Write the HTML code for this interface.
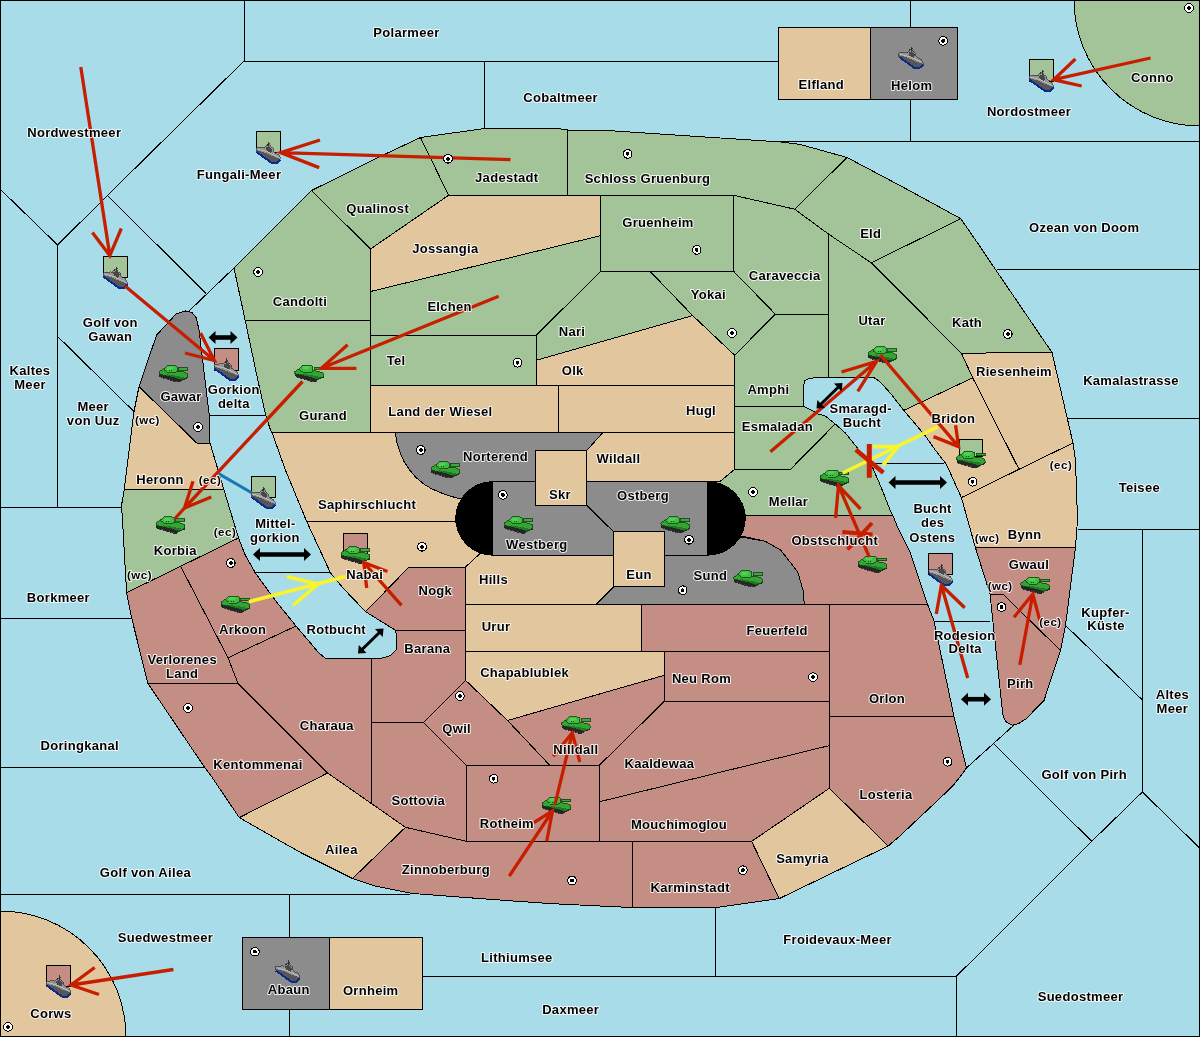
<!DOCTYPE html>
<html><head><meta charset="utf-8"><title>Map</title>
<style>html,body{margin:0;padding:0;background:#A8DCE9;overflow:hidden}svg{display:block;will-change:transform}</style>
</head><body>
<svg width="1200" height="1037" viewBox="0 0 1200 1037" shape-rendering="crispEdges">
<defs>
<symbol id="tk" viewBox="0 0 29 17" width="29" height="17" overflow="visible">
<polygon points="0.3,8.6 6.5,9.9 16.4,12.2 22.5,14.2 26,12.8 29,11.3 29,12.6 23.5,15 20.7,16.9 17.3,16.9 2.2,12.4 0.3,10.9" fill="#262626"/>
<path d="M3,12.3 L18,16.4 M21,16.3 L24,14.6" stroke="#555" stroke-width="0.9" stroke-dasharray="1.2 1.3"/>
<polygon points="0,6.2 4.8,3.1 18.4,5.6 20.7,5.9 24.9,6.5 28.6,8.2 29,11.3 26,12.9 22.5,14.2 16.4,12.2 6.5,9.9 0.3,8.7" fill="#32a632" stroke="#124012" stroke-width="0.8"/>
<polygon points="7,8.6 16,10 24,11.5 26,12.6 22.5,14 16.4,12 6.5,9.8" fill="#247a24"/>
<polygon points="4.8,3.6 7.9,0.2 16.1,0.2 18.4,1.2 18.4,5.6 16,7 8,7 5.5,5" fill="#40bc40" stroke="#124012" stroke-width="0.8"/>
<polygon points="8.5,1.2 15.5,1.2 13,4.5 8,4" fill="#52d052"/>
<rect x="19.9" y="2.1" width="9" height="2.6" fill="#36ad36" stroke="#103810" stroke-width="0.8"/>
<path d="M10,5 h0.9 M12,5 h0.9" stroke="#143" stroke-width="1"/>
</symbol>
<symbol id="sh" viewBox="0 0 26 33" width="26" height="33" overflow="visible">
<polygon points="0,16.4 4,16 7.3,15.7 8.8,16.3 10.6,13.8 12.5,13.3 14,13.8 14.7,15.5 17.2,17.1 17.2,20 20.2,22.3 22.4,23 24.2,26.3 24.4,28.1 20.5,31.8 15.8,31.8 0,20.4" fill="#959595" stroke="#222" stroke-width="0.6"/>
<polygon points="0.5,18.8 8,21 16,24.5 24,27.6 20.5,31.2 15.8,31.2 0.5,20.5" fill="#565656"/>
<polygon points="9.5,16.5 13,14.8 16.5,18.5 15,21.5 11,20" fill="#474747"/>
<path d="M1,17.6 L12,20.6 L23.5,26.4" stroke="#c0c0c0" stroke-width="0.8" fill="none"/>
<path d="M0.4,20.6 L15.8,31.7 L20.6,31.7 L24.4,28.2" stroke="#0a2a8c" stroke-width="2" fill="none"/>
<path d="M12.7,10.3 V15 M12.7,12.2 H14.2 M11.2,13 V15" stroke="#222" stroke-width="0.8"/>
</symbol>
</defs>
<rect x="0" y="0" width="1200" height="1037" fill="#A8DCE9"/>
<polyline points="244,0 244,61" fill="none" stroke="#000" stroke-width="1"/>
<polyline points="244,61 778.4,61" fill="none" stroke="#000" stroke-width="1"/>
<polyline points="484.5,61 484.5,128.5" fill="none" stroke="#000" stroke-width="1"/>
<polyline points="780.5,142 1200,141" fill="none" stroke="#000" stroke-width="1"/>
<polyline points="910.5,0 910.5,141" fill="none" stroke="#000" stroke-width="1"/>
<polyline points="244,61 107.5,195.4 57.6,245" fill="none" stroke="#000" stroke-width="1"/>
<polyline points="0,189 57.6,245" fill="none" stroke="#000" stroke-width="1"/>
<polyline points="57.6,245 57.6,507" fill="none" stroke="#000" stroke-width="1"/>
<polyline points="0,507 121.5,507" fill="none" stroke="#000" stroke-width="1"/>
<polyline points="107.5,195.4 206,293.5" fill="none" stroke="#000" stroke-width="1"/>
<polyline points="189,311 234,268" fill="none" stroke="#000" stroke-width="1"/>
<polyline points="57.6,336.4 134,411.6" fill="none" stroke="#000" stroke-width="1"/>
<polyline points="0,618.2 131.6,618.2" fill="none" stroke="#000" stroke-width="1"/>
<polyline points="0,767.4 204.3,767.4" fill="none" stroke="#000" stroke-width="1"/>
<polyline points="0,894.8 410,894.8" fill="none" stroke="#000" stroke-width="1"/>
<polyline points="289.5,894.8 289.5,1037" fill="none" stroke="#000" stroke-width="1"/>
<polyline points="422,976.3 956.4,976.3" fill="none" stroke="#000" stroke-width="1"/>
<polyline points="956.4,976.3 956.4,1037" fill="none" stroke="#000" stroke-width="1"/>
<polyline points="715.8,907.5 715.8,976.3" fill="none" stroke="#000" stroke-width="1"/>
<polyline points="956.4,976.3 1091.7,841.4" fill="none" stroke="#000" stroke-width="1"/>
<polyline points="1091.7,841.4 1142.4,792" fill="none" stroke="#000" stroke-width="1"/>
<polyline points="1142.4,792 1200,848.4" fill="none" stroke="#000" stroke-width="1"/>
<polyline points="1142.4,529.5 1142.4,792" fill="none" stroke="#000" stroke-width="1"/>
<polyline points="1078.4,529.5 1200,529.5" fill="none" stroke="#000" stroke-width="1"/>
<polyline points="1068.4,418.4 1200,418.4" fill="none" stroke="#000" stroke-width="1"/>
<polyline points="996.5,269.5 1200,269.5" fill="none" stroke="#000" stroke-width="1"/>
<polyline points="1065.4,625.3 1142.4,700" fill="none" stroke="#000" stroke-width="1"/>
<polyline points="1014,725 966.4,768" fill="none" stroke="#000" stroke-width="1"/>
<polyline points="994,743.8 1091.7,841.4" fill="none" stroke="#000" stroke-width="1"/>
<polyline points="209,415.4 265.7,415.4" fill="none" stroke="#000" stroke-width="1"/>
<polyline points="255.3,572.9 330.5,572.9" fill="none" stroke="#000" stroke-width="1"/>
<polyline points="871.6,463.4 944.3,463.4" fill="none" stroke="#000" stroke-width="1"/>
<polyline points="933.8,621.5 989.7,621.5" fill="none" stroke="#000" stroke-width="1"/>
<circle cx="1200" cy="0" r="126" fill="#A3C499" stroke="#000" stroke-width="1"/>
<circle cx="0" cy="1037" r="126" fill="#E2C69D" stroke="#000" stroke-width="1"/>
<rect x="778.5" y="27.5" width="92" height="71.5" fill="#E2C69D" stroke="#000"/>
<rect x="870.5" y="27.5" width="87" height="71.5" fill="#8C8C8C" stroke="#000"/>
<rect x="242.5" y="937.5" width="87" height="71.5" fill="#8C8C8C" stroke="#000"/>
<rect x="329.5" y="937.5" width="92.5" height="71.5" fill="#E2C69D" stroke="#000"/>
<polygon points="234,268 311.5,190.5 370.5,249 370.5,320.5 245.2,320.5" fill="#A3C499" stroke="#000" stroke-width="1" stroke-linejoin="round"/>
<polygon points="311.5,190.5 386.5,153.5 420.5,137.5 448.6,195.3 370.5,249" fill="#A3C499" stroke="#000" stroke-width="1" stroke-linejoin="round"/>
<polygon points="420.5,137.5 484.5,128.5 557,128.5 567.5,130 567.5,195.3 448.6,195.3" fill="#A3C499" stroke="#000" stroke-width="1" stroke-linejoin="round"/>
<polygon points="567.5,130 600,130 780.5,142 800.5,144.5 847,157.5 794.7,209.2 733.6,195.3 567.5,195.3" fill="#A3C499" stroke="#000" stroke-width="1" stroke-linejoin="round"/>
<polygon points="370.5,249 448.6,195.3 567.5,195.3 600.75,195.3 600.75,235.6 500.5,260 370.5,291.5" fill="#E2C69D" stroke="#000" stroke-width="1" stroke-linejoin="round"/>
<polygon points="600.75,195.3 733.6,195.3 733.6,271.3 600.75,271.3" fill="#A3C499" stroke="#000" stroke-width="1" stroke-linejoin="round"/>
<polygon points="847,157.5 900,185.5 960.8,218.7 871.3,262.8 828.7,234.2 794.7,209.2" fill="#A3C499" stroke="#000" stroke-width="1" stroke-linejoin="round"/>
<polygon points="733.6,195.3 794.7,209.2 828.7,234.2 828.7,314.2 775.4,314.2 733.6,271.3" fill="#A3C499" stroke="#000" stroke-width="1" stroke-linejoin="round"/>
<polygon points="245.2,320.5 370.5,320.5 370.5,432.4 272,432.4 270.5,430 265.7,415.4 257.8,380" fill="#A3C499" stroke="#000" stroke-width="1" stroke-linejoin="round"/>
<polygon points="370.5,291.5 500.5,260 600.75,235.6 600.75,271.3 536.3,335.2 370.5,335.2" fill="#A3C499" stroke="#000" stroke-width="1" stroke-linejoin="round"/>
<polygon points="536.3,335.2 600.75,271.3 650,271.3 692.7,315.6 536.3,360.3" fill="#A3C499" stroke="#000" stroke-width="1" stroke-linejoin="round"/>
<polygon points="650,271.3 733.6,271.3 775.4,314.2 734.6,355.2 692.7,315.6" fill="#A3C499" stroke="#000" stroke-width="1" stroke-linejoin="round"/>
<polygon points="370.5,335.2 536.3,335.2 536.3,385.3 370.5,385.3" fill="#A3C499" stroke="#000" stroke-width="1" stroke-linejoin="round"/>
<polygon points="536.3,360.3 692.7,315.6 734.6,355.2 734.6,385.3 536.3,385.3" fill="#E2C69D" stroke="#000" stroke-width="1" stroke-linejoin="round"/>
<polygon points="370.5,385.3 558,385.3 558,432.4 370.5,432.4" fill="#E2C69D" stroke="#000" stroke-width="1" stroke-linejoin="round"/>
<polygon points="558,385.3 734.6,385.3 734.6,432.4 558,432.4" fill="#E2C69D" stroke="#000" stroke-width="1" stroke-linejoin="round"/>
<polygon points="734.6,355.2 775.4,314.2 828.7,314.2 828.7,377.6 817.6,377.6 809,378.3 805,380.5 803.8,385 803.8,406.5 734.6,406.6" fill="#A3C499" stroke="#000" stroke-width="1" stroke-linejoin="round"/>
<polygon points="734.6,406.6 803.8,406.5 810,409.5 818,414 825,415.8 835.2,424 790.5,469.3 734.6,469.3" fill="#A3C499" stroke="#000" stroke-width="1" stroke-linejoin="round"/>
<polygon points="828.7,234.2 871.3,262.8 961.4,353.2 972.7,377.8 903.8,410.4 891,394 885.4,387.7 879,381 874,377.6 828.7,377.6" fill="#A3C499" stroke="#000" stroke-width="1" stroke-linejoin="round"/>
<polygon points="871.3,262.8 960.8,218.7 979.5,245.8 989,260 1052,352.5 961.4,353.2" fill="#A3C499" stroke="#000" stroke-width="1" stroke-linejoin="round"/>
<polygon points="961.4,353.2 1052,352.5 1073,443 1019,469.3 972.7,377.8" fill="#E2C69D" stroke="#000" stroke-width="1" stroke-linejoin="round"/>
<polygon points="903.8,410.4 972.7,377.8 1019,469.3 961.4,497.6 946.4,464.3 935.5,450.4 925,435.4" fill="#E2C69D" stroke="#000" stroke-width="1" stroke-linejoin="round"/>
<polygon points="961.4,497.6 1019,469.3 1073,443 1075.5,460.5 1077.5,520 1075.5,547 975.2,547 967.7,520" fill="#E2C69D" stroke="#000" stroke-width="1" stroke-linejoin="round"/>
<polygon points="975.2,547 1075.5,547 1065.5,625.5 1060.5,650.5 1002.8,594 990,594" fill="#C48E85" stroke="#000" stroke-width="1" stroke-linejoin="round"/>
<polygon points="990,594 1002.8,594 1060.5,650.5 1044,700.5 1035,709.5 1026.8,718.4 1018.7,723.5 1012.7,725.2 1006.6,722.5 1003.6,717.5 1002.5,712" fill="#C48E85" stroke="#000" stroke-width="1" stroke-linejoin="round"/>
<polygon points="603,432.4 734.6,432.4 734.6,469.3 720.3,481.3 586.6,481.3 586.6,450.7" fill="#E2C69D" stroke="#000" stroke-width="1" stroke-linejoin="round"/>
<polygon points="395.2,432.4 603,432.4 586.6,450.7 535.4,450.7 535.4,481.3 492.8,481.3 462,499 458.8,498.5 450,496 442.3,493.3 432,489 424,484.2 416,477.5 409.3,469.5 404,461.5 400.2,453 397,443" fill="#8C8C8C" stroke="#000" stroke-width="1" stroke-linejoin="round"/>
<polygon points="272,432.4 395.2,432.4 397,443 400.2,453 404,461.5 409.3,469.5 416,477.5 424,484.2 432,489 442.3,493.3 450,496 458.8,498.5 462,499 470,518 454.3,521.6 306.7,521.5 285.4,470" fill="#E2C69D" stroke="#000" stroke-width="1" stroke-linejoin="round"/>
<polygon points="306.7,521.5 454.3,521.6 470,530 484,548 479.5,554 465.5,567 409,567 365.6,611.7 343,588 330.5,572.9" fill="#E2C69D" stroke="#000" stroke-width="1" stroke-linejoin="round"/>
<polygon points="492.8,481.3 535.4,481.3 535.4,505.2 586.6,505.2 613.6,531.8 613.6,555.6 492.8,555.6" fill="#8C8C8C" stroke="#000" stroke-width="1" stroke-linejoin="round"/>
<polygon points="586.6,481.3 707.3,481.3 707.3,555.6 664.4,555.6 664.4,531.8 613.6,531.8 586.6,505.2" fill="#8C8C8C" stroke="#000" stroke-width="1" stroke-linejoin="round"/>
<polygon points="535.4,450.7 586.6,450.7 586.6,505.2 535.4,505.2" fill="#E2C69D" stroke="#000" stroke-width="1" stroke-linejoin="round"/>
<polygon points="613.6,531.8 664.4,531.8 664.4,586.7 613.6,586.7" fill="#E2C69D" stroke="#000" stroke-width="1" stroke-linejoin="round"/>
<polygon points="465.5,567 479.5,554 486,547 492.8,548 492.8,555.6 613.6,555.6 613.6,586.7 596.4,604 465.5,604" fill="#E2C69D" stroke="#000" stroke-width="1" stroke-linejoin="round"/>
<polygon points="734.6,469.3 790.5,469.3 835.2,424 845.2,432.8 855.3,445.4 865.3,458 872.8,468 880.4,485.5 890.4,510.6 892.9,515.6 745.8,515 712,505 712,481.3 720.3,481.3" fill="#A3C499" stroke="#000" stroke-width="1" stroke-linejoin="round"/>
<polygon points="720,515 892.9,515.6 898,528.2 910.5,553.2 923,590.9 927.6,604.5 804.3,604.5 803,590 798,572.6 790.5,562.6 780.5,550 765.4,541.3 742.9,536.3 720,537" fill="#C48E85" stroke="#000" stroke-width="1" stroke-linejoin="round"/>
<polygon points="596.4,604 613.6,586.7 664.4,586.7 664.4,555.6 707.3,555.6 741,537 765.4,541.3 780.5,550 790.5,562.6 798,572.6 803,590 804.3,604.5" fill="#8C8C8C" stroke="#000" stroke-width="1" stroke-linejoin="round"/>
<polygon points="465.5,604 641.5,604 641.5,651 465.5,651" fill="#E2C69D" stroke="#000" stroke-width="1" stroke-linejoin="round"/>
<polygon points="641.5,604 829.3,604.5 829.3,651 641.5,651" fill="#C48E85" stroke="#000" stroke-width="1" stroke-linejoin="round"/>
<polygon points="465.5,651 664,651 664,675.4 507.5,720.5 465.5,680.3" fill="#E2C69D" stroke="#000" stroke-width="1" stroke-linejoin="round"/>
<polygon points="664,651 829.3,651 829.3,701.7 664,701.7" fill="#C48E85" stroke="#000" stroke-width="1" stroke-linejoin="round"/>
<polygon points="829.3,604.5 927.6,604.5 933.8,620.3 953.9,716.2 829.3,716.5" fill="#C48E85" stroke="#000" stroke-width="1" stroke-linejoin="round"/>
<polygon points="829.3,716.5 953.9,716.2 966.4,768 960,777 953.9,784.5 940,798.3 920,817 900,835.9 888.2,846 829.3,788.3" fill="#C48E85" stroke="#000" stroke-width="1" stroke-linejoin="round"/>
<polygon points="664,701.7 829.3,701.7 829.3,745.6 599.6,801.7 599.6,765" fill="#C48E85" stroke="#000" stroke-width="1" stroke-linejoin="round"/>
<polygon points="599.6,801.7 829.3,745.6 829.3,788.3 751.6,841.4 599.6,841.3" fill="#C48E85" stroke="#000" stroke-width="1" stroke-linejoin="round"/>
<polygon points="751.6,841.4 829.3,788.3 888.2,846 779.2,898.6" fill="#E2C69D" stroke="#000" stroke-width="1" stroke-linejoin="round"/>
<polygon points="632.6,841.3 751.6,841.4 779.2,898.6 717.8,907.3 642.6,907.8 632.6,907.3" fill="#C48E85" stroke="#000" stroke-width="1" stroke-linejoin="round"/>
<polygon points="405.5,827.3 466.2,841.3 632.6,841.3 632.6,907.3 612.5,906.8 600,906 550.6,903.6 513,901 463,897.3 412.8,893.5 375.2,886 352.6,878.5" fill="#C48E85" stroke="#000" stroke-width="1" stroke-linejoin="round"/>
<polygon points="466.2,765 599.6,765 599.6,841.3 466.2,841.3" fill="#C48E85" stroke="#000" stroke-width="1" stroke-linejoin="round"/>
<polygon points="507.5,720.5 664,675.4 664,701.7 599.6,765 549.5,765" fill="#C48E85" stroke="#000" stroke-width="1" stroke-linejoin="round"/>
<polygon points="423.5,722.3 465.5,680.3 507.5,720.5 549.5,765 466.2,765" fill="#C48E85" stroke="#000" stroke-width="1" stroke-linejoin="round"/>
<polygon points="371.2,803.5 371.2,722.3 423.5,722.3 466.2,765 466.2,841.3 405.5,827.3" fill="#C48E85" stroke="#000" stroke-width="1" stroke-linejoin="round"/>
<polygon points="371.2,658.5 380.6,658.5 388,656.5 392,654.3 396,650 397,645.6 396.5,635 395.5,630.3 465.5,630.3 465.5,680.3 423.5,722.3 371.2,722.3" fill="#C48E85" stroke="#000" stroke-width="1" stroke-linejoin="round"/>
<polygon points="365.6,611.7 409,567 465.5,567 465.5,630.3 395.5,630.3" fill="#C48E85" stroke="#000" stroke-width="1" stroke-linejoin="round"/>
<polygon points="139,386.6 156.6,335 168,322.7 176,314 185.5,311 192,312.5 196.4,318 199,330 209,413 210,443 196.7,443" fill="#8C8C8C" stroke="#000" stroke-width="1" stroke-linejoin="round"/>
<polygon points="139,386.6 196.7,443 210,443 223.7,489 124.3,489 134,411.6" fill="#E2C69D" stroke="#000" stroke-width="1" stroke-linejoin="round"/>
<polygon points="124.3,489 223.7,489 238.5,538 126.6,592.7 122.5,520 121.5,505.6" fill="#A3C499" stroke="#000" stroke-width="1" stroke-linejoin="round"/>
<polygon points="238.5,538 245.3,555.3 255.3,572.9 275.4,600.5 296,626 228,657.8 180.6,566.3" fill="#C48E85" stroke="#000" stroke-width="1" stroke-linejoin="round"/>
<polygon points="126.6,592.7 180.6,566.3 228,657.8 238,683.4 147.9,683.4 131.6,617.7" fill="#C48E85" stroke="#000" stroke-width="1" stroke-linejoin="round"/>
<polygon points="147.9,683.4 238,683.4 327.6,773 239.3,817.6 211.8,777 204.3,766.9" fill="#C48E85" stroke="#000" stroke-width="1" stroke-linejoin="round"/>
<polygon points="228,657.8 296,626 310.5,643 318,652 325.5,658.5 371.2,658.5 371.2,803.5 327.6,773 238,683.4" fill="#C48E85" stroke="#000" stroke-width="1" stroke-linejoin="round"/>
<polygon points="239.3,817.6 327.6,773 405.5,827.3 352.6,878.5 300,852.2" fill="#E2C69D" stroke="#000" stroke-width="1" stroke-linejoin="round"/>
<path d="M492.8,481.1 A37.5,37.3 0 0 0 492.8,555.7 Z" fill="#000"/>
<path d="M707.3,481.1 A38.5,37.3 0 0 1 707.3,555.7 Z" fill="#000"/>
<rect x="256.5" y="131.8" width="23.6" height="20.7" fill="#A3C499" stroke="#000" stroke-width="1"/>
<rect x="103.8" y="256.8" width="23.5" height="21" fill="#A3C499" stroke="#000" stroke-width="1"/>
<rect x="1029.8" y="59.9" width="23.3" height="21.1" fill="#A3C499" stroke="#000" stroke-width="1"/>
<rect x="214.7" y="348.6" width="23.6" height="21.5" fill="#C48E85" stroke="#000" stroke-width="1"/>
<rect x="251.5" y="476.9" width="23.8" height="21" fill="#A3C499" stroke="#000" stroke-width="1"/>
<rect x="928.9" y="553.1" width="23.3" height="21.2" fill="#C48E85" stroke="#000" stroke-width="1"/>
<rect x="46.9" y="965.5" width="23.6" height="21" fill="#C48E85" stroke="#000" stroke-width="1"/>
<rect x="343.5" y="533.3" width="23.8" height="21" fill="#C48E85" stroke="#000" stroke-width="1"/>
<rect x="959.1" y="439.1" width="23.1" height="17.8" fill="#A3C499" stroke="#000" stroke-width="1"/>
<use href="#sh" x="256" y="131.3"/>
<use href="#sh" x="103.3" y="256.3"/>
<use href="#sh" x="1029.3" y="59.4"/>
<use href="#sh" x="214.2" y="348.1"/>
<use href="#sh" x="251" y="476.4"/>
<use href="#sh" x="928.5" y="553.5"/>
<use href="#sh" x="46.4" y="965"/>
<use href="#sh" x="898.8" y="36.4"/>
<use href="#sh" x="275.6" y="950.1"/>
<use href="#tk" x="159" y="365.5"/>
<use href="#tk" x="294.5" y="365"/>
<use href="#tk" x="156" y="516.7"/>
<use href="#tk" x="221" y="596"/>
<use href="#tk" x="341" y="546.7"/>
<use href="#tk" x="431" y="461.5"/>
<use href="#tk" x="504" y="516.8"/>
<use href="#tk" x="660.9" y="516.5"/>
<use href="#tk" x="733.5" y="570.5"/>
<use href="#tk" x="868" y="346.5"/>
<use href="#tk" x="820" y="470"/>
<use href="#tk" x="956.2" y="451.3"/>
<use href="#tk" x="858" y="556"/>
<use href="#tk" x="1020.8" y="577"/>
<use href="#tk" x="561.3" y="716.8"/>
<use href="#tk" x="542" y="797"/>
<g fill="none" stroke-linecap="butt" shape-rendering="auto">
<path d="M80.8,67 L109.8,255.6 M92.4,232.5 L109.8,255.6 L121.3,228.5" stroke="#C81E00" stroke-width="3.3"/>
<path d="M125.3,286.3 L214.4,360.6 M200.5,333 L214.4,360.6 L185,353" stroke="#C81E00" stroke-width="3.3"/>
<path d="M510.5,159.6 L280.6,152.6 M320,140 L280.6,152.6 L319.2,167.6" stroke="#C81E00" stroke-width="3.3"/>
<path d="M1150.6,58 L1053.6,79.7 M1075.4,59 L1053.6,79.7 L1081.7,86" stroke="#C81E00" stroke-width="3.3"/>
<path d="M498.7,296.3 L321.3,368.3 M347.6,344.7 L321.3,368.3 L356.4,368.3" stroke="#C81E00" stroke-width="3.3"/>
<path d="M302.5,381.5 L184.5,508 M193,481.3 L184.5,508 L211.3,497" stroke="#C81E00" stroke-width="3.3"/>
<path d="M770.4,451.7 L876.6,361.3 M841.5,372 L876.6,361.3 L857.8,391.4" stroke="#C81E00" stroke-width="3.3"/>
<path d="M880.4,355 L958.6,446.6 M933.5,436.6 L958.6,446.6 L955.6,425.3" stroke="#C81E00" stroke-width="3.3"/>
<path d="M869.3,557 L838.5,485.5 M835.6,518 L838.5,485.5 L860.5,509" stroke="#C81E00" stroke-width="3.3"/>
<path d="M967.7,678 L941.4,585.2 M936.3,614 L941.4,585.2 L964.7,607.7" stroke="#C81E00" stroke-width="3.3"/>
<path d="M1019.8,664.9 L1032.8,594 M1014,617.2 L1032.8,594 L1039.8,620.3" stroke="#C81E00" stroke-width="3.3"/>
<path d="M554.8,805.2 L572.3,732.8 M553.2,756.2 L572.3,732.8 L579.8,762" stroke="#C81E00" stroke-width="3.3"/>
<path d="M509.3,876 L552.5,811 M533.8,822.7 L552.5,811 L546.7,841.3" stroke="#C81E00" stroke-width="3.3"/>
<path d="M401.5,605.3 L363.8,562.5 M366.7,588 L363.8,562.5 L387.5,571.5" stroke="#C81E00" stroke-width="3.3"/>
<path d="M173.4,969.5 L71,985 M94.7,967.5 L71,985 L99,994.5" stroke="#C81E00" stroke-width="3.3"/>
<path d="M249,601.7 L345.6,576.6 M286.7,576.6 L318,584.2 L292.9,605.5" stroke="#FAF52A" stroke-width="3.6"/>
<path d="M842.7,473 L938,426.6 M872.8,446.6 L898,446.6 L882.9,465.4" stroke="#FAF52A" stroke-width="3.6"/>
<path d="M219,473.9 L251.6,492.7" stroke="#1878b4" stroke-width="3"/>
<path d="M215.0,337.5 L231.0,337.5" stroke="#000" stroke-width="4.6"/>
<polygon points="237.5,337.5 230.5,344.0 230.5,331.0" fill="#000" stroke="none"/>
<polygon points="208.5,337.5 215.5,344.0 215.5,331.0" fill="#000" stroke="none"/>
<path d="M259.5,554.5 L304.5,554.5" stroke="#000" stroke-width="4.6"/>
<polygon points="311.0,554.5 304.0,561.0 304.0,548.0" fill="#000" stroke="none"/>
<polygon points="253.0,554.5 260.0,561.0 260.0,548.0" fill="#000" stroke="none"/>
<path d="M362.3,649.3 L379.2,632.7" stroke="#000" stroke-width="3.0"/>
<polygon points="383.5,628.5 382.7,637.0 375.0,629.1" fill="#000" stroke="none"/>
<polygon points="358.0,653.5 366.5,652.9 358.8,645.0" fill="#000" stroke="none"/>
<path d="M820.8,404.3 L838.2,387.2" stroke="#000" stroke-width="3.0"/>
<polygon points="842.5,383.0 841.7,391.5 834.0,383.6" fill="#000" stroke="none"/>
<polygon points="816.5,408.5 825.0,407.9 817.3,400.0" fill="#000" stroke="none"/>
<path d="M895.0,482.5 L940.5,482.5" stroke="#000" stroke-width="4.6"/>
<polygon points="947.0,482.5 940.0,489.0 940.0,476.0" fill="#000" stroke="none"/>
<polygon points="888.5,482.5 895.5,489.0 895.5,476.0" fill="#000" stroke="none"/>
<path d="M967.5,699.2 L984.5,699.2" stroke="#000" stroke-width="4.6"/>
<polygon points="991.0,699.2 984.0,705.7 984.0,692.7" fill="#000" stroke="none"/>
<polygon points="961.0,699.2 968.0,705.7 968.0,692.7" fill="#000" stroke="none"/>
<path d="M185.5,507 L175,518.5" stroke="#C81E00" stroke-width="3.3"/>
<path d="M869.3,444 L869.3,477.8" stroke="#C81E00" stroke-width="5"/><path d="M855.8,449.8 L883.4,472.8" stroke="#C81E00" stroke-width="4.5"/>
<path d="M847.5,549.5 L872,523 M842.3,532 L872.6,534.5" stroke="#C81E00" stroke-width="4"/>
</g>
<circle cx="448" cy="158.8" r="4.3" fill="#fff" stroke="#000" stroke-width="1.1"/><circle cx="448" cy="158.8" r="1.9" fill="#000"/>
<circle cx="627.6" cy="153.9" r="4.3" fill="#fff" stroke="#000" stroke-width="1.1"/><circle cx="627.6" cy="153.9" r="1.9" fill="#000"/>
<circle cx="696.7" cy="249.9" r="4.3" fill="#fff" stroke="#000" stroke-width="1.1"/><circle cx="696.7" cy="249.9" r="1.9" fill="#000"/>
<circle cx="943.1" cy="40.9" r="4.3" fill="#fff" stroke="#000" stroke-width="1.1"/><circle cx="943.1" cy="40.9" r="1.9" fill="#000"/>
<circle cx="1189" cy="8" r="4.3" fill="#fff" stroke="#000" stroke-width="1.1"/><circle cx="1189" cy="8" r="1.9" fill="#000"/>
<circle cx="258" cy="272" r="4.3" fill="#fff" stroke="#000" stroke-width="1.1"/><circle cx="258" cy="272" r="1.9" fill="#000"/>
<circle cx="198" cy="427" r="4.3" fill="#fff" stroke="#000" stroke-width="1.1"/><circle cx="198" cy="427" r="1.9" fill="#000"/>
<circle cx="517.5" cy="362.8" r="4.3" fill="#fff" stroke="#000" stroke-width="1.1"/><circle cx="517.5" cy="362.8" r="1.9" fill="#000"/>
<circle cx="420.8" cy="450" r="4.3" fill="#fff" stroke="#000" stroke-width="1.1"/><circle cx="420.8" cy="450" r="1.9" fill="#000"/>
<circle cx="502.9" cy="494.9" r="4.3" fill="#fff" stroke="#000" stroke-width="1.1"/><circle cx="502.9" cy="494.9" r="1.9" fill="#000"/>
<circle cx="732" cy="333" r="4.3" fill="#fff" stroke="#000" stroke-width="1.1"/><circle cx="732" cy="333" r="1.9" fill="#000"/>
<circle cx="753" cy="492" r="4.3" fill="#fff" stroke="#000" stroke-width="1.1"/><circle cx="753" cy="492" r="1.9" fill="#000"/>
<circle cx="1007.8" cy="334" r="4.3" fill="#fff" stroke="#000" stroke-width="1.1"/><circle cx="1007.8" cy="334" r="1.9" fill="#000"/>
<circle cx="972.7" cy="481.8" r="4.3" fill="#fff" stroke="#000" stroke-width="1.1"/><circle cx="972.7" cy="481.8" r="1.9" fill="#000"/>
<circle cx="230.8" cy="563" r="4.3" fill="#fff" stroke="#000" stroke-width="1.1"/><circle cx="230.8" cy="563" r="1.9" fill="#000"/>
<circle cx="188" cy="708" r="4.3" fill="#fff" stroke="#000" stroke-width="1.1"/><circle cx="188" cy="708" r="1.9" fill="#000"/>
<circle cx="422" cy="546.8" r="4.3" fill="#fff" stroke="#000" stroke-width="1.1"/><circle cx="422" cy="546.8" r="1.9" fill="#000"/>
<circle cx="459.9" cy="696" r="4.3" fill="#fff" stroke="#000" stroke-width="1.1"/><circle cx="459.9" cy="696" r="1.9" fill="#000"/>
<circle cx="493.7" cy="778.8" r="4.3" fill="#fff" stroke="#000" stroke-width="1.1"/><circle cx="493.7" cy="778.8" r="1.9" fill="#000"/>
<circle cx="689" cy="539.8" r="4.3" fill="#fff" stroke="#000" stroke-width="1.1"/><circle cx="689" cy="539.8" r="1.9" fill="#000"/>
<circle cx="682.7" cy="590.2" r="4.3" fill="#fff" stroke="#000" stroke-width="1.1"/><circle cx="682.7" cy="590.2" r="1.9" fill="#000"/>
<circle cx="813" cy="677.1" r="4.3" fill="#fff" stroke="#000" stroke-width="1.1"/><circle cx="813" cy="677.1" r="1.9" fill="#000"/>
<circle cx="1001.5" cy="607" r="4.3" fill="#fff" stroke="#000" stroke-width="1.1"/><circle cx="1001.5" cy="607" r="1.9" fill="#000"/>
<circle cx="947.6" cy="761.8" r="4.3" fill="#fff" stroke="#000" stroke-width="1.1"/><circle cx="947.6" cy="761.8" r="1.9" fill="#000"/>
<circle cx="8" cy="1026.9" r="4.3" fill="#fff" stroke="#000" stroke-width="1.1"/><circle cx="8" cy="1026.9" r="1.9" fill="#000"/>
<circle cx="254.9" cy="951.7" r="4.3" fill="#fff" stroke="#000" stroke-width="1.1"/><circle cx="254.9" cy="951.7" r="1.9" fill="#000"/>
<circle cx="572" cy="880.5" r="4.3" fill="#fff" stroke="#000" stroke-width="1.1"/><circle cx="572" cy="880.5" r="1.9" fill="#000"/>
<circle cx="742.9" cy="870.2" r="4.3" fill="#fff" stroke="#000" stroke-width="1.1"/><circle cx="742.9" cy="870.2" r="1.9" fill="#000"/>
<g font-family="Liberation Sans, sans-serif" font-weight="bold" font-size="13" letter-spacing="0.3" text-anchor="middle" fill="#000" stroke="#fff" stroke-width="2" stroke-opacity="0.85" paint-order="stroke" stroke-linejoin="round" shape-rendering="auto">
<text x="406.5" y="37.0">Polarmeer</text>
<text x="560.6" y="102.2">Cobaltmeer</text>
<text x="74.3" y="137.2">Nordwestmeer</text>
<text x="239" y="179.2">Fungali-Meer</text>
<text x="1029" y="116.2">Nordostmeer</text>
<text x="1152.4" y="82.2">Conno</text>
<text x="821.3" y="89.2">Elfland</text>
<text x="911.7" y="89.7">Helom</text>
<text x="1084.2" y="232.2">Ozean von Doom</text>
<text x="110.3" y="327.4">Golf von</text>
<text x="110.3" y="341.1">Gawan</text>
<text x="30" y="375.0">Kaltes</text>
<text x="30" y="388.7">Meer</text>
<text x="93.2" y="411.3">Meer</text>
<text x="93.2" y="425.1">von Uuz</text>
<text x="1131" y="384.6">Kamalastrasse</text>
<text x="1139.3" y="491.5">Teisee</text>
<text x="58.4" y="602.4">Borkmeer</text>
<text x="275.4" y="528.2">Mittel-</text>
<text x="274.9" y="541.7">gorkion</text>
<text x="336.3" y="634.2">Rotbucht</text>
<text x="233.8" y="394.3">Gorkion</text>
<text x="233.8" y="408.3">delta</text>
<text x="860.7" y="413.3">Smaragd-</text>
<text x="862" y="427.1">Bucht</text>
<text x="932.6" y="512.7">Bucht</text>
<text x="932.6" y="527.0">des</text>
<text x="932.3" y="541.5">Ostens</text>
<text x="964.7" y="639.5">Rodesion</text>
<text x="965.2" y="653.3">Delta</text>
<text x="1105.5" y="616.7">Kupfer-</text>
<text x="1106" y="630.0">Küste</text>
<text x="1172.4" y="699.4">Altes</text>
<text x="1172.4" y="713.2">Meer</text>
<text x="79.7" y="750.3">Doringkanal</text>
<text x="1084.2" y="779.1">Golf von Pirh</text>
<text x="145.4" y="876.9">Golf von Ailea</text>
<text x="165.4" y="942.1">Suedwestmeer</text>
<text x="50.9" y="1018.0">Corws</text>
<text x="516.8" y="962.2">Lithiumsee</text>
<text x="837.6" y="944.1">Froidevaux-Meer</text>
<text x="288.7" y="994.0">Abaun</text>
<text x="370.7" y="995.2">Ornheim</text>
<text x="570.7" y="1014.3">Daxmeer</text>
<text x="1080.5" y="1001.0">Suedostmeer</text>
<text x="506.8" y="182.1">Jadestadt</text>
<text x="647.5" y="182.7">Schloss Gruenburg</text>
<text x="377.7" y="212.7">Qualinost</text>
<text x="658" y="227.3">Gruenheim</text>
<text x="870.7" y="237.7">Eld</text>
<text x="445.4" y="253.3">Jossangia</text>
<text x="784.7" y="280.2">Caraveccia</text>
<text x="299.9" y="305.7">Candolti</text>
<text x="708.3" y="299.0">Yokai</text>
<text x="449.6" y="311.1">Elchen</text>
<text x="872" y="324.7">Utar</text>
<text x="967" y="327.4">Kath</text>
<text x="572" y="336.1">Nari</text>
<text x="396" y="365.0">Tel</text>
<text x="572.7" y="375.0">Olk</text>
<text x="1014" y="376.2">Riesenheim</text>
<text x="768.4" y="393.7">Amphi</text>
<text x="181" y="401.3">Gawar</text>
<text x="701" y="415.1">Hugl</text>
<text x="440.4" y="415.7">Land der Wiesel</text>
<text x="323" y="420.1">Gurand</text>
<text x="953.4" y="423.1">Bridon</text>
<text x="777.4" y="430.9">Esmaladan</text>
<text x="495.5" y="460.9">Norterend</text>
<text x="618.5" y="463.1">Wildall</text>
<text x="147.4" y="423.8" font-size="11.5" letter-spacing="0.5">(wc)</text>
<text x="160" y="483.5">Heronn</text>
<text x="210" y="483.8" font-size="11.5" letter-spacing="0.5">(ec)</text>
<text x="1061" y="469.2" font-size="11.5" letter-spacing="0.5">(ec)</text>
<text x="560" y="499.1">Skr</text>
<text x="643" y="500.4">Ostberg</text>
<text x="788.5" y="506.1">Mellar</text>
<text x="367" y="508.8">Saphirschlucht</text>
<text x="1024.6" y="539.0">Bynn</text>
<text x="987.2" y="541.7" font-size="11.5" letter-spacing="0.5">(wc)</text>
<text x="225" y="535.8" font-size="11.5" letter-spacing="0.5">(ec)</text>
<text x="536.8" y="548.5">Westberg</text>
<text x="834.8" y="544.7">Obstschlucht</text>
<text x="175.3" y="555.2">Korbia</text>
<text x="1029" y="568.6">Gwaul</text>
<text x="139.5" y="578.7" font-size="11.5" letter-spacing="0.5">(wc)</text>
<text x="364.8" y="579.0">Nabai</text>
<text x="639" y="579.4">Eun</text>
<text x="710.3" y="579.7">Sund</text>
<text x="493.5" y="584.1">Hills</text>
<text x="1000.2" y="589.9" font-size="11.5" letter-spacing="0.5">(wc)</text>
<text x="435.3" y="595.4">Nogk</text>
<text x="1050.4" y="625.7" font-size="11.5" letter-spacing="0.5">(ec)</text>
<text x="496" y="631.2">Urur</text>
<text x="777.2" y="635.0">Feuerfeld</text>
<text x="242.7" y="634.1">Arkoon</text>
<text x="427.3" y="653.3">Barana</text>
<text x="182.2" y="664.3">Verlorenes</text>
<text x="182.2" y="677.7">Land</text>
<text x="524.6" y="677.0">Chapablublek</text>
<text x="701.5" y="683.1">Neu Rom</text>
<text x="1020.3" y="688.1">Pirh</text>
<text x="887" y="703.1">Orlon</text>
<text x="326.8" y="729.5">Charaua</text>
<text x="456.7" y="733.2">Qwil</text>
<text x="575.8" y="754.2">Nilldall</text>
<text x="659.4" y="768.3">Kaaldewaa</text>
<text x="258" y="769.1">Kentommenai</text>
<text x="886" y="799.2">Losteria</text>
<text x="418.3" y="805.3">Sottovia</text>
<text x="506.9" y="827.5">Rotheim</text>
<text x="679" y="829.3">Mouchimoglou</text>
<text x="341.4" y="854.4">Ailea</text>
<text x="802.5" y="863.2">Samyria</text>
<text x="445.9" y="873.7">Zinnoberburg</text>
<text x="690.2" y="892.0">Karminstadt</text>
</g>
<rect x="0.5" y="0.5" width="1199" height="1036" fill="none" stroke="#000" stroke-width="1"/>
</svg>
</body></html>
